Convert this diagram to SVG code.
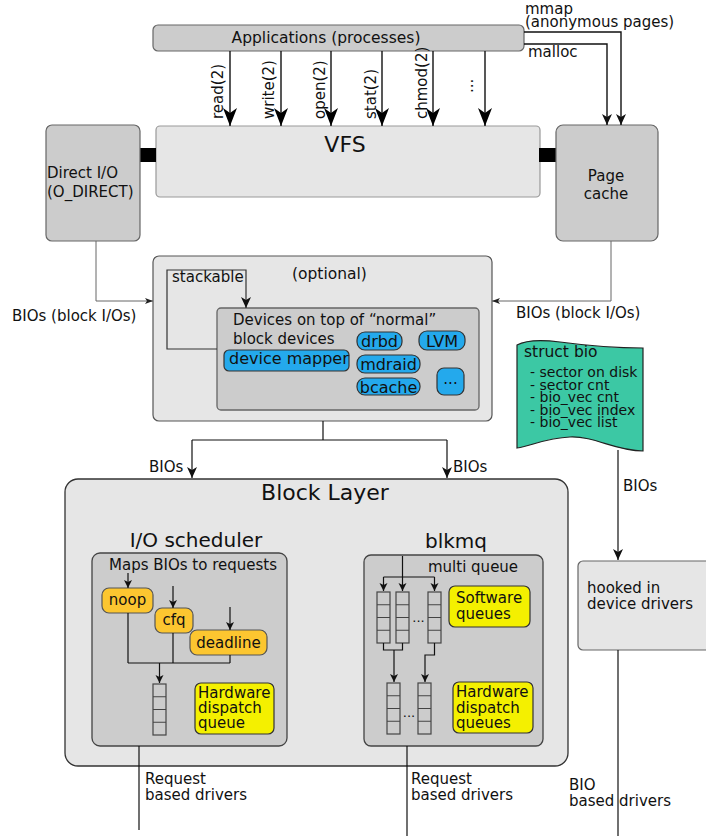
<svg xmlns="http://www.w3.org/2000/svg" xmlns:xlink="http://www.w3.org/1999/xlink" width="706" height="836" viewBox="0 0 706 836">
  <style>
    text { font-family: "DejaVu Sans", "Liberation Sans", sans-serif; font-size: 15px; fill: #111; }
    .box-dark { fill: #cccccc; stroke: #666; stroke-width: 1.2; }
    .box-light { fill: #e6e6e6; stroke: #666; stroke-width: 1.2; }
    .box-outer { fill: #e6e6e6; stroke: #333; stroke-width: 1.3; }
    .box-inner { fill: #cccccc; stroke: #444; stroke-width: 1.3; }
    .pill-blue { fill: #24a9ec; stroke: #333; stroke-width: 1.2; }
    .pill-orange { fill: #fcc630; stroke: #555; stroke-width: 1.2; }
    .note-yellow { fill: #f4f000; stroke: #333; stroke-width: 1.2; }
    .queue rect { fill: #cccccc; stroke: #444; stroke-width: 1.2; }
    .queue path { fill: none; stroke: #444; stroke-width: 1.2; }
    .wire { fill: none; stroke: #111; stroke-width: 1.4; }
    .wire-s { fill: none; stroke: #111; stroke-width: 1.2; }
    .wire-thin { fill: none; stroke: #666; stroke-width: 1; }
    .title { font-size: 22px; }
    .subtitle { font-size: 20px; }
    .pill-text { font-size: 16px; }
    .bio-text { font-size: 14px; }
  </style>
  <defs>
    <marker id="ah-big" markerUnits="userSpaceOnUse" markerWidth="20" markerHeight="16" refX="18" refY="8" orient="auto" overflow="visible">
      <path d="M18,8 L0,1 L5,8 L0,15 Z" fill="#000"/>
    </marker>
    <marker id="ah-mid" markerUnits="userSpaceOnUse" markerWidth="12" markerHeight="10" refX="11" refY="5" orient="auto" overflow="visible">
      <path d="M11,5 L0,0 L3,5 L0,10 Z" fill="#111"/>
    </marker>
    <marker id="ah-small" markerUnits="userSpaceOnUse" markerWidth="9" markerHeight="8" refX="8" refY="4" orient="auto" overflow="visible">
      <path d="M8,4 L0,0 L2,4 L0,8 Z" fill="#111"/>
    </marker>
    <marker id="ah-tiny" markerUnits="userSpaceOnUse" markerWidth="9" markerHeight="6" refX="8" refY="3" orient="auto" overflow="visible">
      <path d="M8,3 L0,0 L2,3 L0,6 Z" fill="#222"/>
    </marker>
    <g id="queue4" class="queue">
      <rect x="0" y="0" width="13" height="51"/>
      <path d="M0,12.75H13M0,25.5H13M0,38.25H13"/>
    </g>
  </defs>

  <g id="applications">
    <rect class="box-dark" x="153" y="25" width="371" height="26" rx="5"/>
    <text x="326" y="43" text-anchor="middle" style="font-size:15.5px">Applications (processes)</text>
  </g>

  <g id="vfs">
    <rect x="156" y="126" width="384" height="71" rx="4" fill="#e6e6e6" stroke="#999" stroke-width="1.2"/>
    <text class="title" x="345" y="152" text-anchor="middle">VFS</text>
    <rect x="139" y="148" width="17" height="14" fill="#000"/>
    <rect x="539" y="148" width="17" height="14" fill="#000"/>
  </g>

  <g id="direct-io">
    <rect class="box-dark" x="46" y="125" width="94" height="116" rx="6"/>
    <text x="47" y="178">Direct I/O</text>
    <text x="47" y="197">(O_DIRECT)</text>
  </g>

  <g id="page-cache">
    <rect class="box-dark" x="556" y="125" width="102" height="116" rx="7"/>
    <text x="606" y="181" text-anchor="middle">Page</text>
    <text x="606" y="199" text-anchor="middle">cache</text>
  </g>

  <g id="optional-layer">
    <rect class="box-light" x="153" y="256" width="339" height="165" rx="6" style="stroke:#555"/>
    <text x="292" y="279" style="font-size:15.5px">(optional)</text>
    <rect class="box-inner" x="217" y="308" width="262" height="102" rx="4" style="stroke:#666"/>
    <text x="233" y="325">Devices on top of “normal”</text>
    <text x="233" y="344">block devices</text>
  </g>

  <g id="device-mapper">
    <rect class="pill-blue" x="224" y="350" width="125" height="21" rx="5"/>
    <text class="pill-text" x="229" y="364">device mapper</text>
  </g>
  <g id="drbd">
    <rect class="pill-blue" x="357" y="332" width="45" height="18" rx="8"/>
    <text class="pill-text" x="379.5" y="347" text-anchor="middle">drbd</text>
  </g>
  <g id="lvm">
    <rect class="pill-blue" x="419" y="331" width="46" height="19" rx="8"/>
    <text class="pill-text" x="442" y="347" text-anchor="middle">LVM</text>
  </g>
  <g id="mdraid">
    <rect class="pill-blue" x="357" y="355" width="63" height="18" rx="8"/>
    <text class="pill-text" x="388.5" y="370" text-anchor="middle">mdraid</text>
  </g>
  <g id="bcache">
    <rect class="pill-blue" x="357" y="378" width="63" height="17" rx="8"/>
    <text class="pill-text" x="388.5" y="393" text-anchor="middle">bcache</text>
  </g>
  <g id="more-devices">
    <rect class="pill-blue" x="437" y="368" width="27" height="27" rx="7"/>
    <text x="450.5" y="384" text-anchor="middle">...</text>
  </g>

  <g id="struct-bio">
    <path d="M517,345 C528,339 545,340 560,342 C590,346 615,348 643,348 L643,451 C615,451 595,436 570,437 C545,438 532,446 517,448 Z" fill="#3cc8a4" stroke="#222" stroke-width="1.2"/>
    <text x="524" y="357" style="font-size:15.5px">struct bio</text>
    <text class="bio-text" x="530" y="377">- sector on disk</text>
    <text class="bio-text" x="530" y="389.5">- sector cnt</text>
    <text class="bio-text" x="530" y="402">- bio_vec cnt</text>
    <text class="bio-text" x="530" y="414.5">- bio_vec index</text>
    <text class="bio-text" x="530" y="427">- bio_vec list</text>
  </g>

  <g id="block-layer">
    <rect class="box-outer" x="65" y="479" width="503" height="287" rx="13"/>
    <text class="title" x="325" y="500" text-anchor="middle">Block Layer</text>
  </g>

  <g id="io-scheduler">
    <text class="subtitle" x="196" y="547" text-anchor="middle">I/O scheduler</text>
    <rect class="box-inner" x="92" y="553" width="195" height="193" rx="8"/>
    <text x="109" y="570">Maps BIOs to requests</text>
    <use xlink:href="#queue4" href="#queue4" x="153" y="684"/>
  </g>
  <g id="noop">
    <rect class="pill-orange" x="102" y="588" width="51" height="25" rx="7"/>
    <text x="127.5" y="605" text-anchor="middle">noop</text>
  </g>
  <g id="cfq">
    <rect class="pill-orange" x="155" y="608" width="38" height="25" rx="7"/>
    <text x="174" y="625" text-anchor="middle">cfq</text>
  </g>
  <g id="deadline">
    <rect class="pill-orange" x="190" y="630" width="77" height="25" rx="7"/>
    <text x="228.5" y="648" text-anchor="middle">deadline</text>
  </g>
  <g id="hw-dispatch-queue">
    <rect class="note-yellow" x="195" y="683" width="79" height="51" rx="6"/>
    <text x="198" y="698">Hardware</text>
    <text x="198" y="713">dispatch</text>
    <text x="198" y="728">queue</text>
  </g>

  <g id="blkmq">
    <text class="subtitle" x="456" y="548" text-anchor="middle">blkmq</text>
    <rect class="box-inner" x="364" y="555" width="179" height="191" rx="7"/>
    <text x="428" y="572">multi queue</text>
    <use xlink:href="#queue4" href="#queue4" x="377" y="592"/>
    <use xlink:href="#queue4" href="#queue4" x="396" y="592"/>
    <use xlink:href="#queue4" href="#queue4" x="428" y="592"/>
    <text x="418.5" y="622" text-anchor="middle" style="font-size:13px">...</text>
    <use xlink:href="#queue4" href="#queue4" x="387" y="683"/>
    <use xlink:href="#queue4" href="#queue4" x="418" y="683"/>
    <text x="409" y="717" text-anchor="middle" style="font-size:13px">...</text>
  </g>
  <g id="software-queues">
    <rect class="note-yellow" x="449" y="586" width="81" height="41" rx="6"/>
    <text x="456" y="603">Software</text>
    <text x="456" y="619">queues</text>
  </g>
  <g id="hw-dispatch-queues">
    <rect class="note-yellow" x="453" y="682" width="80" height="51" rx="6"/>
    <text x="456" y="697">Hardware</text>
    <text x="456" y="713">dispatch</text>
    <text x="456" y="728">queues</text>
  </g>

  <g id="hooked-drivers">
    <rect class="box-light" x="578" y="561" width="140" height="89" rx="5"/>
    <text x="587" y="593">hooked in</text>
    <text x="587" y="609">device drivers</text>
  </g>

  <!-- connectors, drawn above the boxes they link -->
  <g id="connectors">
    <!-- system calls -->
    <line class="wire" x1="230" y1="51" x2="230" y2="126" marker-end="url(#ah-big)"/>
    <line class="wire" x1="281" y1="51" x2="281" y2="126" marker-end="url(#ah-big)"/>
    <line class="wire" x1="331" y1="51" x2="331" y2="126" marker-end="url(#ah-big)"/>
    <line class="wire" x1="382" y1="51" x2="382" y2="126" marker-end="url(#ah-big)"/>
    <line class="wire" x1="433" y1="51" x2="433" y2="126" marker-end="url(#ah-big)"/>
    <line class="wire" x1="485" y1="51" x2="485" y2="126" marker-end="url(#ah-big)"/>
    <!-- mmap / malloc to page cache -->
    <polyline class="wire" points="524,32 621,32 621,125" marker-end="url(#ah-mid)"/>
    <polyline class="wire" points="524,44 607,44 607,125" marker-end="url(#ah-mid)"/>
    <!-- BIOs (block I/Os) -->
    <polyline class="wire-thin" points="96,241 96,301 153,301" marker-end="url(#ah-tiny)"/>
    <polyline class="wire-thin" points="611,241 611,301 492,301" marker-end="url(#ah-tiny)"/>
    <!-- stackable loop -->
    <polyline class="wire-s" points="217,349 167,349 167,270 246,270 246,308" marker-end="url(#ah-mid)" style="stroke:#333"/>
    <!-- optional layer to block layer -->
    <path class="wire-s" d="M323,421 V440 M192,440 H447"/>
    <line class="wire-s" x1="192" y1="440" x2="192" y2="478" marker-end="url(#ah-mid)"/>
    <line class="wire-s" x1="447" y1="440" x2="447" y2="478" marker-end="url(#ah-mid)"/>
    <!-- struct bio to hooked drivers -->
    <line class="wire-s" x1="618" y1="450" x2="618" y2="560" marker-end="url(#ah-mid)"/>
    <!-- I/O scheduler -->
    <line class="wire-s" x1="128" y1="573" x2="128" y2="588" marker-end="url(#ah-small)"/>
    <line class="wire-s" x1="173" y1="586" x2="173" y2="608" marker-end="url(#ah-small)"/>
    <line class="wire-s" x1="230" y1="607" x2="230" y2="630" marker-end="url(#ah-small)"/>
    <path class="wire-s" d="M128,613 V663 M173,633 V663 M230,655 V663 M128,663 H230"/>
    <line class="wire-s" x1="159.5" y1="663" x2="159.5" y2="683" marker-end="url(#ah-small)"/>
    <!-- blkmq -->
    <line class="wire-s" x1="402.5" y1="556" x2="402.5" y2="591" marker-end="url(#ah-small)"/>
    <path class="wire-s" d="M383.5,577 H434.5"/>
    <line class="wire-s" x1="383.5" y1="577" x2="383.5" y2="591" marker-end="url(#ah-small)"/>
    <line class="wire-s" x1="434.5" y1="577" x2="434.5" y2="591" marker-end="url(#ah-small)"/>
    <path class="wire-s" d="M383.5,643 V650 H402.5 V643"/>
    <polyline class="wire-s" points="394,650 394,682" marker-end="url(#ah-small)"/>
    <polyline class="wire-s" points="434.5,643 434.5,655 425,655 425,682" marker-end="url(#ah-small)"/>
    <!-- drivers below -->
    <line class="wire-s" x1="139" y1="746" x2="139" y2="830"/>
    <line class="wire-s" x1="407" y1="746" x2="407" y2="836"/>
    <line class="wire-s" x1="618" y1="650" x2="618" y2="836"/>
  </g>

  <!-- connector labels -->
  <g id="labels">
    <text transform="translate(223,119) rotate(-90)">read(2)</text>
    <text transform="translate(274,119) rotate(-90)">write(2)</text>
    <text transform="translate(325,119) rotate(-90)">open(2)</text>
    <text transform="translate(376,119) rotate(-90)">stat(2)</text>
    <text transform="translate(427,119) rotate(-90)">chmod(2)</text>
    <text transform="translate(473,93) rotate(-90)">...</text>
    <text x="525" y="14">mmap</text>
    <text x="525" y="27">(anonymous pages)</text>
    <text x="528" y="57">malloc</text>
    <text x="12" y="321">BIOs (block I/Os)</text>
    <text x="516" y="318">BIOs (block I/Os)</text>
    <text x="172" y="282">stackable</text>
    <text x="149" y="472">BIOs</text>
    <text x="453" y="472">BIOs</text>
    <text x="623" y="491">BIOs</text>
    <text x="145" y="784">Request</text>
    <text x="145" y="800">based drivers</text>
    <text x="411" y="784">Request</text>
    <text x="411" y="800">based drivers</text>
    <text x="569" y="790">BIO</text>
    <text x="569" y="806">based drivers</text>
  </g>
</svg>
